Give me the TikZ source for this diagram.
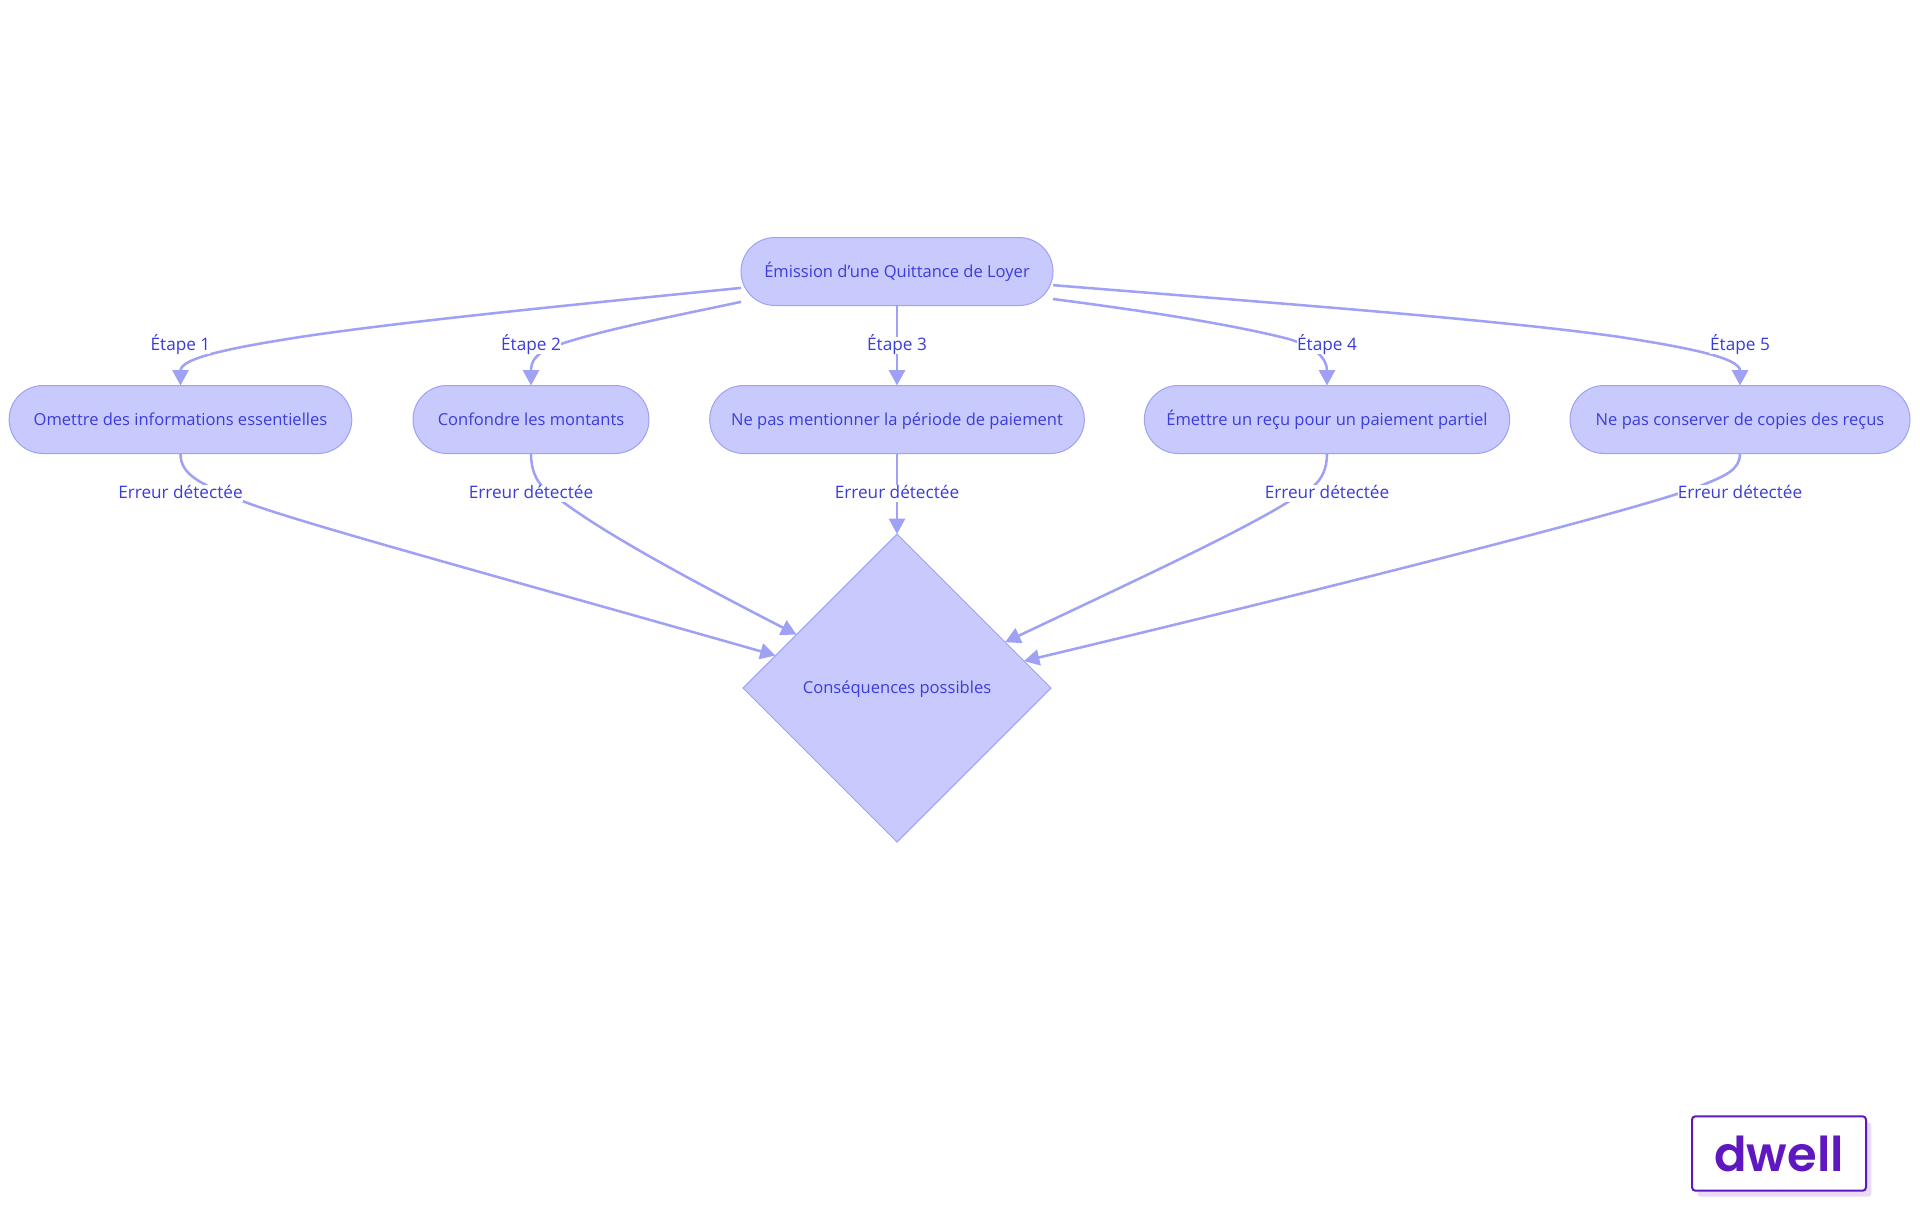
\documentclass[tikz,border=0pt]{standalone}
\usepackage{fontspec}
\setmainfont{Open Sans}
\newfontfamily\logofont{Poppins SemiBold}
\usetikzlibrary{positioning, shapes.geometric, arrows.meta, shadows}

\definecolor{stepfill}{HTML}{C8C9FD}
\definecolor{stepline}{HTML}{9FA1F5}
\definecolor{steptext}{HTML}{3B3DD8}
\definecolor{logoink}{HTML}{5F18BF}
\definecolor{logoshade}{HTML}{E8DBF7}

\tikzset{
	stepbox/.style={draw=stepline, fill=stepfill, text=steptext, line width=.75pt,
		rounded corners=25.5pt, minimum height=51pt, inner sep=0pt, outer sep=0pt,
		text height=11.5pt, text depth=3pt,
		font=\fontsize{12.4pt}{16pt}\selectfont},
	choice/.style={diamond, aspect=1, draw=stepline, fill=stepfill, text=steptext, line width=.75pt,
		minimum width=231pt, minimum height=231pt, inner sep=0pt, outer sep=0pt,
		text height=11.5pt, text depth=3pt,
		font=\fontsize{12.4pt}{16pt}\selectfont},
	tag/.style={fill=white, text=steptext, inner sep=0pt,
		text height=10.7pt, text depth=2.5pt,
		font=\fontsize{12.9pt}{16pt}\selectfont},
	link/.style={draw=stepline, line width=1.9pt, ->}
}

\begin{document}
\begin{tikzpicture}[x=.75pt, y=-.75pt, >={Triangle[width=12pt,length=11.5pt]}, on grid]
	\useasboundingbox (0,0) rectangle (1920,1215);

	\node[stepbox, minimum width=234pt]   (A) at (897,271.5)                         {Émission d'une Quittance de Loyer};
	\node[stepbox, minimum width=281pt]   (C) [below=111pt of A]                     {Ne pas mentionner la période de paiement};
	\node[stepbox, minimum width=177pt]   (B) [left=274.5pt of C]                    {Confondre les montants};
	\node[stepbox, minimum width=257pt]   (O) [left=262.9pt of B]                    {Omettre des informations essentielles};
	\node[stepbox, minimum width=274pt]   (D) [right=322.5pt of C]                   {Émettre un reçu pour un paiement partiel};
	\node[stepbox, minimum width=255pt]   (E) [right=309.75pt of D]                  {Ne pas conserver de copies des reçus};
	\node[choice]                         (R) [below=201.4pt of C]                   {Conséquences possibles};

	% Quittance vers les etapes
	\draw[link] (A.186) .. controls (560,306) and (400,322) .. (300,337) .. controls (230,348) and (180.5,358) .. (O.north);
	\draw[link] (A.191.2) .. controls (680,315) and (600,330) .. (555,346) .. controls (535,353) and (531,362) .. (B.north);
	\draw[link] (A.south) -- (C.north);
	\draw[link] (A.350.5) .. controls (1130,309) and (1220,322) .. (1285,338) .. controls (1315,346) and (1327,358) .. (D.north);
	\draw[link] (A.355) .. controls (1300,305) and (1500,320) .. (1620,337) .. controls (1690,348) and (1740,358) .. (E.north);

	% Etapes vers les consequences
	\draw[link] (O.south) .. controls (180.5,475) and (200,484) .. (245,502) .. controls (300,523) and (500,577) .. (R.165.2);
	\draw[link] (B.south) .. controls (531,485) and (550,493) .. (563,502) .. controls (610,537) and (700,585) .. (R.152);
	\draw[link] (C.south) -- (R.north);
	\draw[link] (D.south) .. controls (1327,485) and (1305,492) .. (1288,502) .. controls (1240,532) and (1130,583) .. (R.23.8);
	\draw[link] (E.south) .. controls (1740,470) and (1725,476) .. (1700,486) .. controls (1640,510) and (1300,595) .. (R.12.6);

	\node[tag] (t1) [above=55.6pt of O] {Étape 1};
	\node[tag] (t2) [above=55.6pt of B] {Étape 2};
	\node[tag] (t3) [above=55.6pt of C] {Étape 3};
	\node[tag] (t4) [above=55.6pt of D] {Étape 4};
	\node[tag] (t5) [above=55.6pt of E] {Étape 5};

	\node[tag] (e1) [below=55.5pt of O] {Erreur détectée};
	\node[tag] (e2) [below=55.5pt of B] {Erreur détectée};
	\node[tag] (e3) [below=55.5pt of C] {Erreur détectée};
	\node[tag] (e4) [below=55.5pt of D] {Erreur détectée};
	\node[tag] (e5) [below=55.5pt of E] {Erreur détectée};

	% logo
	\node[draw=logoink, fill=white, text=logoink, line width=1.5pt, rounded corners=2.5pt,
		minimum width=130.5pt, minimum height=55.8pt, inner sep=0pt,
		drop shadow={shadow xshift=4pt, shadow yshift=-4.5pt, fill=logoshade, opacity=1},
		font=\logofont\fontsize{36pt}{40pt}\selectfont] (logo) at (1779,1153.5) {dwell};
\end{tikzpicture}
\end{document}
